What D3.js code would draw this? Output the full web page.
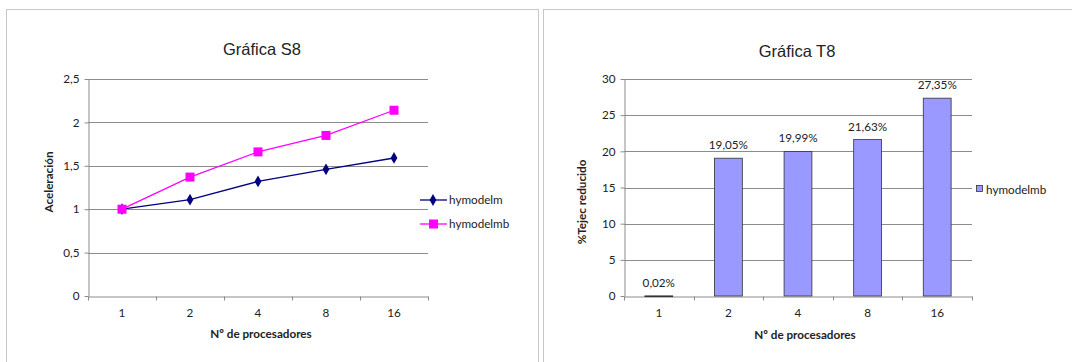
<!DOCTYPE html>
<html>
<head>
<meta charset="utf-8">
<script src="https://cdn.jsdelivr.net/npm/d3@7"></script>
<style>
  body { margin: 0; background: #fff; }
  svg text { font-family: Lato, "Open Sans", sans-serif; fill: #222; }
  svg text.title { font-family: "Liberation Sans", Arial, sans-serif; }
</style>
</head>
<body>
<div id="chart"></div>
<script>
// data
const procs = ["1", "2", "4", "8", "16"];
const hymodelm = [1, 1.11, 1.32, 1.46, 1.59];
const hymodelmb = [1, 1.37, 1.66, 1.85, 2.14];
const speedTicks = [0, 0.5, 1, 1.5, 2, 2.5];
const reduction = [0.02, 19.05, 19.99, 21.63, 27.35];
const reductionLabels = ["0,02%", "19,05%", "19,99%", "21,63%", "27,35%"];
const reductionTicks = [0, 5, 10, 15, 20, 25, 30];

const W = 1072, H = 362;
const svg = d3.select("#chart").append("svg")
  .attr("width", W).attr("height", H);

const comma = d => String(d).replace(".", ",");
const gridColor = "#8c8c8c";
const fs = 11.7;

// panel frames
svg.append("rect").attr("x", 6.5).attr("y", 9.5).attr("width", 532).attr("height", 360)
  .attr("fill", "none").attr("stroke", "#c8c8c8");
svg.append("rect").attr("x", 543.5).attr("y", 9.5).attr("width", 530).attr("height", 360)
  .attr("fill", "none").attr("stroke", "#c8c8c8");

// draws grid + axes for one panel, returns the band scale
function frame(g, x0, x1, yScale, ticks, fmt) {
  const xScale = d3.scaleBand().domain(procs).range([x0, x1]);

  // horizontal gridlines
  g.selectAll(".grid").data(ticks.slice(1)).enter().append("line")
    .attr("x1", x0).attr("x2", x1)
    .attr("y1", d => Math.round(yScale(d)) + 0.5).attr("y2", d => Math.round(yScale(d)) + 0.5)
    .attr("stroke", gridColor);

  const yAxis = g.append("g")
    .attr("transform", `translate(${x0 + 0.5},0)`)
    .call(d3.axisLeft(yScale).tickValues(ticks).tickFormat(fmt).tickSize(4).tickSizeOuter(0));
  yAxis.select(".domain").attr("stroke", gridColor);
  yAxis.selectAll(".tick line").attr("stroke", gridColor);
  yAxis.selectAll(".tick text").attr("font-size", fs).attr("x", -9);

  const xAxis = g.append("g")
    .attr("transform", `translate(0,${Math.round(yScale(0)) + 0.5})`)
    .call(d3.axisBottom(xScale).tickSize(0));
  xAxis.select(".domain").attr("stroke", gridColor);
  xAxis.selectAll(".tick text").attr("font-size", fs).attr("dy", "1.5em");
  // tick marks at band edges
  const edges = procs.map(p => xScale(p)).concat([x1]);
  xAxis.selectAll(".edge").data(edges).enter().append("line")
    .attr("x1", d => Math.round(d) + 0.5).attr("x2", d => Math.round(d) + 0.5)
    .attr("y1", 0).attr("y2", 4).attr("stroke", gridColor);

  return xScale;
}

/* ---------- Gráfica S8 ---------- */
const g1 = svg.append("g");
const y1 = d3.scaleLinear().domain([0, 2.5]).range([296, 79]);
const x1 = frame(g1, 88, 428, y1, speedTicks, comma);

g1.append("text").attr("class", "title").attr("x", 262).attr("y", 55).attr("text-anchor", "middle")
  .attr("font-size", 16.5).text("Gráfica S8");
g1.append("text").attr("x", 261).attr("y", 338).attr("text-anchor", "middle")
  .attr("font-size", fs).attr("font-weight", "bold").text("Nº de procesadores");
g1.append("text").attr("transform", "translate(53,182) rotate(-90)").attr("text-anchor", "middle")
  .attr("font-size", fs).attr("font-weight", "bold").text("Aceleración");

const line1 = d3.line().x((d, i) => x1(procs[i]) + x1.bandwidth() / 2).y(d => y1(d));
const diamond = d3.symbol().type(d3.symbolDiamond).size(40);

g1.append("path").datum(hymodelm).attr("d", line1)
  .attr("fill", "none").attr("stroke", "#000080").attr("stroke-width", 1.3);
g1.selectAll(".m").data(hymodelm).enter().append("path")
  .attr("d", diamond)
  .attr("transform", (d, i) => `translate(${x1(procs[i]) + x1.bandwidth() / 2},${y1(d)})`)
  .attr("fill", "#000080");

g1.append("path").datum(hymodelmb).attr("d", line1)
  .attr("fill", "none").attr("stroke", "#ff00ff").attr("stroke-width", 1.3);
g1.selectAll(".mb").data(hymodelmb).enter().append("rect")
  .attr("x", (d, i) => x1(procs[i]) + x1.bandwidth() / 2 - 4.5)
  .attr("y", d => y1(d) - 4.5)
  .attr("width", 9).attr("height", 9).attr("fill", "#ff00ff");

// legend
const leg1 = g1.append("g").attr("transform", "translate(420,200)");
leg1.append("line").attr("x1", 0).attr("x2", 27).attr("stroke", "#000080").attr("stroke-width", 1.3);
leg1.append("path").attr("d", diamond).attr("transform", "translate(13,0)").attr("fill", "#000080");
leg1.append("text").attr("x", 29).attr("y", 4).attr("font-size", fs).text("hymodelm");
leg1.append("line").attr("x1", 0).attr("x2", 27).attr("y1", 24).attr("y2", 24)
  .attr("stroke", "#ff00ff").attr("stroke-width", 1.3);
leg1.append("rect").attr("x", 9).attr("y", 19.5).attr("width", 9).attr("height", 9).attr("fill", "#ff00ff");
leg1.append("text").attr("x", 29).attr("y", 28).attr("font-size", fs).text("hymodelmb");

/* ---------- Gráfica T8 ---------- */
const g2 = svg.append("g");
const y2 = d3.scaleLinear().domain([0, 30]).range([296, 79]);
const x2 = frame(g2, 624, 972, y2, reductionTicks, d => d);

g2.append("text").attr("class", "title").attr("x", 797).attr("y", 57).attr("text-anchor", "middle")
  .attr("font-size", 16.5).text("Gráfica T8");
g2.append("text").attr("x", 805).attr("y", 339).attr("text-anchor", "middle")
  .attr("font-size", fs).attr("font-weight", "bold").text("Nº de procesadores");
g2.append("text").attr("transform", "translate(586,202) rotate(-90)").attr("text-anchor", "middle")
  .attr("font-size", fs).attr("font-weight", "bold").text("%Tejec reducido");

const barW = x2.bandwidth() * 0.4;
g2.selectAll(".bar").data(reduction).enter().append("rect")
  .attr("x", (d, i) => x2(procs[i]) + (x2.bandwidth() - barW) / 2)
  .attr("y", d => y2(d))
  .attr("width", barW)
  .attr("height", d => Math.max(0.8, y2(0) - y2(d)))
  .attr("fill", "#9999ff").attr("stroke", "#333").attr("stroke-width", 0.8);

g2.selectAll(".lbl").data(reduction).enter().append("text")
  .attr("x", (d, i) => x2(procs[i]) + x2.bandwidth() / 2)
  .attr("y", d => y2(d) - 9)
  .attr("text-anchor", "middle").attr("font-size", fs)
  .text((d, i) => reductionLabels[i]);

const leg2 = g2.append("g").attr("transform", "translate(976,190)");
leg2.append("rect").attr("x", 0.5).attr("y", -4.5).attr("width", 6).attr("height", 6)
  .attr("fill", "#9999ff").attr("stroke", "#333").attr("stroke-width", 0.8);
leg2.append("text").attr("x", 10).attr("y", 3.5).attr("font-size", fs).text("hymodelmb");
</script>
</body>
</html>
